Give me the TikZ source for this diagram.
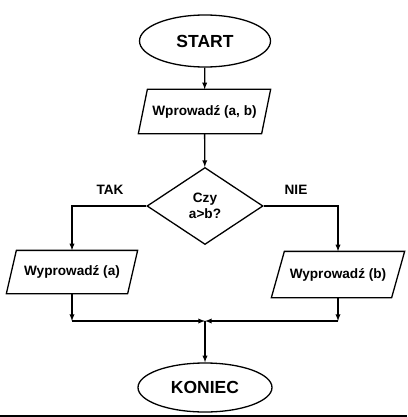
\documentclass[tikz,border=0pt]{standalone}
\usepackage{fontspec}
\setmainfont{Liberation Sans}
\usetikzlibrary{shapes.geometric,positioning}

\begin{document}
\begin{tikzpicture}
                    [>=latex,x=1pt,y=-1pt,line width=1.3pt,
                    term/.style={draw,ellipse,inner sep=0pt,font=\fontsize{17.5}{20}\bfseries\selectfont},
                    io/.style={inner sep=0pt,font=\fontsize{13.6}{16}\bfseries\selectfont},
                    decision/.style={draw,diamond,inner sep=0pt,align=center,font=\fontsize{13.6}{16}\bfseries\selectfont},
                    answer/.style={font=\fontsize{13.6}{16}\bfseries\selectfont}]

                    \useasboundingbox (0,0) rectangle (407,417);

                    \node[term,minimum width=131pt,minimum height=52pt] (start) at (205,41) {START};
                    \node[io,minimum width=122pt,minimum height=43pt] (input) at (204.5,111.5) {Wprowadź (a, b)};
                    \node[decision,minimum width=116pt,minimum height=77pt] (cond) at (205,206) {Czy\\a>b?};
                    \node[io,minimum width=120pt,minimum height=42pt] (outa) at (72,272) {Wyprowadź (a)};
                    \node[io,minimum width=119pt,minimum height=45pt] (outb) at (338,274.5) {Wyprowadź (b)};
                    \node[term,minimum width=134pt,minimum height=49pt] (end) at (205,387.5) {KONIEC};

                    \node[answer] (yes) at (110,190) {TAK};
                    \node[answer] (no) at (296,190) {NIE};

                    % slanted boxes for input and output
                    \foreach \n/\s in {input/4.5,outa/5,outb/6.5}
                      \draw ([xshift=\s pt]\n.north west) -- ([xshift=\s pt]\n.north east)
                        -- ([xshift=-\s pt]\n.south east) -- ([xshift=-\s pt]\n.south west) -- cycle;

                    \coordinate (join) at (205,321);

                    \draw[->] (start) -- (input);
                    \draw[->] (input) -- (cond);
                    \draw[->] (cond.west) -| (outa.north);
                    \draw[->] (cond.east) -| (outb.north);
                    \draw[->] (outa.south) -- (outa.south |- join);
                    \draw[->] (outb.south) -- (outb.south |- join);
                    \draw[->] (outa.south |- join) -- (join);
                    \draw[->] (outb.south |- join) -- (join);
                    \draw[->] (join) -- (end);

                    \draw[line width=1.6pt] (0,416.2) -- (407,416.2);
                \end{tikzpicture}
\end{document}
